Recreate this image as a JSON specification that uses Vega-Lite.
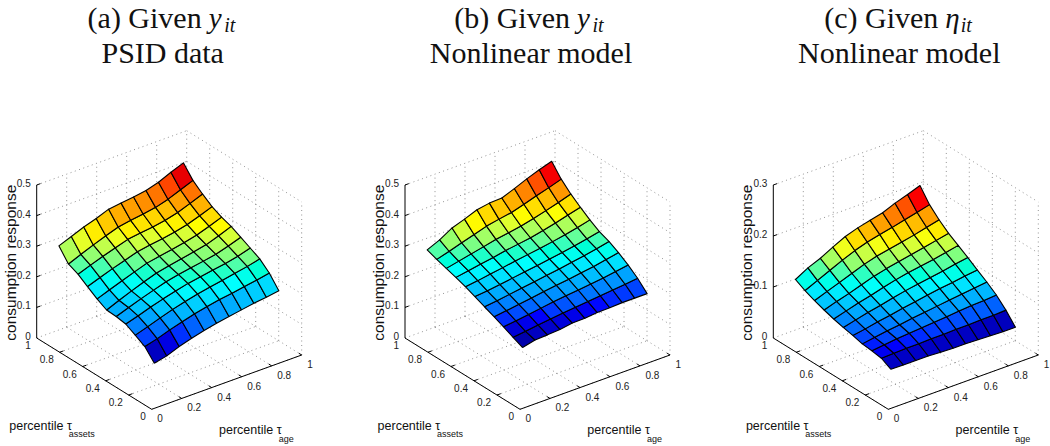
{"$schema":"https://vega.github.io/schema/vega-lite/v6.json","width":1050,"height":446,"padding":0,"autosize":{"type":"fit","contains":"padding"},"background":"white","config":{"view":{"stroke":null}},
"datasets":{"surface":[
{"p":"a","i":0,"j":0,"z":0.12},{"p":"a","i":1,"j":0,"z":0.129},{"p":"a","i":2,"j":0,"z":0.145},{"p":"a","i":3,"j":0,"z":0.157},{"p":"a","i":4,"j":0,"z":0.168},{"p":"a","i":5,"j":0,"z":0.177},{"p":"a","i":6,"j":0,"z":0.184},{"p":"a","i":7,"j":0,"z":0.191},{"p":"a","i":8,"j":0,"z":0.198},{"p":"a","i":9,"j":0,"z":0.203},{"p":"a","i":10,"j":0,"z":0.209},
{"p":"a","i":0,"j":1,"z":0.155},{"p":"a","i":1,"j":1,"z":0.166},{"p":"a","i":2,"j":1,"z":0.18},{"p":"a","i":3,"j":1,"z":0.192},{"p":"a","i":4,"j":1,"z":0.203},{"p":"a","i":5,"j":1,"z":0.212},{"p":"a","i":6,"j":1,"z":0.22},{"p":"a","i":7,"j":1,"z":0.226},{"p":"a","i":8,"j":1,"z":0.233},{"p":"a","i":9,"j":1,"z":0.24},{"p":"a","i":10,"j":1,"z":0.248},
{"p":"a","i":0,"j":2,"z":0.173},{"p":"a","i":1,"j":2,"z":0.186},{"p":"a","i":2,"j":2,"z":0.2},{"p":"a","i":3,"j":2,"z":0.213},{"p":"a","i":4,"j":2,"z":0.224},{"p":"a","i":5,"j":2,"z":0.234},{"p":"a","i":6,"j":2,"z":0.242},{"p":"a","i":7,"j":2,"z":0.249},{"p":"a","i":8,"j":2,"z":0.257},{"p":"a","i":9,"j":2,"z":0.265},{"p":"a","i":10,"j":2,"z":0.275},
{"p":"a","i":0,"j":3,"z":0.19},{"p":"a","i":1,"j":3,"z":0.202},{"p":"a","i":2,"j":3,"z":0.216},{"p":"a","i":3,"j":3,"z":0.228},{"p":"a","i":4,"j":3,"z":0.239},{"p":"a","i":5,"j":3,"z":0.249},{"p":"a","i":6,"j":3,"z":0.256},{"p":"a","i":7,"j":3,"z":0.263},{"p":"a","i":8,"j":3,"z":0.27},{"p":"a","i":9,"j":3,"z":0.279},{"p":"a","i":10,"j":3,"z":0.291},
{"p":"a","i":0,"j":4,"z":0.195},{"p":"a","i":1,"j":4,"z":0.21},{"p":"a","i":2,"j":4,"z":0.224},{"p":"a","i":3,"j":4,"z":0.237},{"p":"a","i":4,"j":4,"z":0.25},{"p":"a","i":5,"j":4,"z":0.259},{"p":"a","i":6,"j":4,"z":0.266},{"p":"a","i":7,"j":4,"z":0.273},{"p":"a","i":8,"j":4,"z":0.281},{"p":"a","i":9,"j":4,"z":0.293},{"p":"a","i":10,"j":4,"z":0.307},
{"p":"a","i":0,"j":5,"z":0.197},{"p":"a","i":1,"j":5,"z":0.214},{"p":"a","i":2,"j":5,"z":0.23},{"p":"a","i":3,"j":5,"z":0.245},{"p":"a","i":4,"j":5,"z":0.259},{"p":"a","i":5,"j":5,"z":0.268},{"p":"a","i":6,"j":5,"z":0.276},{"p":"a","i":7,"j":5,"z":0.284},{"p":"a","i":8,"j":5,"z":0.293},{"p":"a","i":9,"j":5,"z":0.307},{"p":"a","i":10,"j":5,"z":0.323},
{"p":"a","i":0,"j":6,"z":0.214},{"p":"a","i":1,"j":6,"z":0.229},{"p":"a","i":2,"j":6,"z":0.244},{"p":"a","i":3,"j":6,"z":0.258},{"p":"a","i":4,"j":6,"z":0.272},{"p":"a","i":5,"j":6,"z":0.28},{"p":"a","i":6,"j":6,"z":0.287},{"p":"a","i":7,"j":6,"z":0.295},{"p":"a","i":8,"j":6,"z":0.305},{"p":"a","i":9,"j":6,"z":0.319},{"p":"a","i":10,"j":6,"z":0.334},
{"p":"a","i":0,"j":7,"z":0.235},{"p":"a","i":1,"j":7,"z":0.25},{"p":"a","i":2,"j":7,"z":0.264},{"p":"a","i":3,"j":7,"z":0.277},{"p":"a","i":4,"j":7,"z":0.29},{"p":"a","i":5,"j":7,"z":0.297},{"p":"a","i":6,"j":7,"z":0.303},{"p":"a","i":7,"j":7,"z":0.31},{"p":"a","i":8,"j":7,"z":0.32},{"p":"a","i":9,"j":7,"z":0.334},{"p":"a","i":10,"j":7,"z":0.349},
{"p":"a","i":0,"j":8,"z":0.256},{"p":"a","i":1,"j":8,"z":0.271},{"p":"a","i":2,"j":8,"z":0.285},{"p":"a","i":3,"j":8,"z":0.298},{"p":"a","i":4,"j":8,"z":0.311},{"p":"a","i":5,"j":8,"z":0.317},{"p":"a","i":6,"j":8,"z":0.322},{"p":"a","i":7,"j":8,"z":0.329},{"p":"a","i":8,"j":8,"z":0.34},{"p":"a","i":9,"j":8,"z":0.355},{"p":"a","i":10,"j":8,"z":0.371},
{"p":"a","i":0,"j":9,"z":0.27},{"p":"a","i":1,"j":9,"z":0.287},{"p":"a","i":2,"j":9,"z":0.303},{"p":"a","i":3,"j":9,"z":0.318},{"p":"a","i":4,"j":9,"z":0.332},{"p":"a","i":5,"j":9,"z":0.339},{"p":"a","i":6,"j":9,"z":0.345},{"p":"a","i":7,"j":9,"z":0.352},{"p":"a","i":8,"j":9,"z":0.364},{"p":"a","i":9,"j":9,"z":0.38},{"p":"a","i":10,"j":9,"z":0.396},
{"p":"a","i":0,"j":10,"z":0.31},{"p":"a","i":1,"j":10,"z":0.326},{"p":"a","i":2,"j":10,"z":0.342},{"p":"a","i":3,"j":10,"z":0.355},{"p":"a","i":4,"j":10,"z":0.371},{"p":"a","i":5,"j":10,"z":0.376},{"p":"a","i":6,"j":10,"z":0.381},{"p":"a","i":7,"j":10,"z":0.388},{"p":"a","i":8,"j":10,"z":0.4},{"p":"a","i":9,"j":10,"z":0.418},{"p":"a","i":10,"j":10,"z":0.434},
{"p":"b","i":0,"j":0,"z":0.171},{"p":"b","i":1,"j":0,"z":0.181},{"p":"b","i":2,"j":0,"z":0.183},{"p":"b","i":3,"j":0,"z":0.186},{"p":"b","i":4,"j":0,"z":0.192},{"p":"b","i":5,"j":0,"z":0.193},{"p":"b","i":6,"j":0,"z":0.197},{"p":"b","i":7,"j":0,"z":0.198},{"p":"b","i":8,"j":0,"z":0.2},{"p":"b","i":9,"j":0,"z":0.2},{"p":"b","i":10,"j":0,"z":0.2},
{"p":"b","i":0,"j":1,"z":0.185},{"p":"b","i":1,"j":1,"z":0.19},{"p":"b","i":2,"j":1,"z":0.196},{"p":"b","i":3,"j":1,"z":0.201},{"p":"b","i":4,"j":1,"z":0.206},{"p":"b","i":5,"j":1,"z":0.21},{"p":"b","i":6,"j":1,"z":0.214},{"p":"b","i":7,"j":1,"z":0.218},{"p":"b","i":8,"j":1,"z":0.222},{"p":"b","i":9,"j":1,"z":0.226},{"p":"b","i":10,"j":1,"z":0.231},
{"p":"b","i":0,"j":2,"z":0.2},{"p":"b","i":1,"j":2,"z":0.205},{"p":"b","i":2,"j":2,"z":0.211},{"p":"b","i":3,"j":2,"z":0.217},{"p":"b","i":4,"j":2,"z":0.223},{"p":"b","i":5,"j":2,"z":0.228},{"p":"b","i":6,"j":2,"z":0.232},{"p":"b","i":7,"j":2,"z":0.237},{"p":"b","i":8,"j":2,"z":0.242},{"p":"b","i":9,"j":2,"z":0.248},{"p":"b","i":10,"j":2,"z":0.255},
{"p":"b","i":0,"j":3,"z":0.214},{"p":"b","i":1,"j":3,"z":0.219},{"p":"b","i":2,"j":3,"z":0.225},{"p":"b","i":3,"j":3,"z":0.231},{"p":"b","i":4,"j":3,"z":0.237},{"p":"b","i":5,"j":3,"z":0.243},{"p":"b","i":6,"j":3,"z":0.248},{"p":"b","i":7,"j":3,"z":0.254},{"p":"b","i":8,"j":3,"z":0.26},{"p":"b","i":9,"j":3,"z":0.268},{"p":"b","i":10,"j":3,"z":0.276},
{"p":"b","i":0,"j":4,"z":0.227},{"p":"b","i":1,"j":4,"z":0.232},{"p":"b","i":2,"j":4,"z":0.238},{"p":"b","i":3,"j":4,"z":0.244},{"p":"b","i":4,"j":4,"z":0.25},{"p":"b","i":5,"j":4,"z":0.256},{"p":"b","i":6,"j":4,"z":0.262},{"p":"b","i":7,"j":4,"z":0.269},{"p":"b","i":8,"j":4,"z":0.276},{"p":"b","i":9,"j":4,"z":0.284},{"p":"b","i":10,"j":4,"z":0.293},
{"p":"b","i":0,"j":5,"z":0.241},{"p":"b","i":1,"j":5,"z":0.245},{"p":"b","i":2,"j":5,"z":0.251},{"p":"b","i":3,"j":5,"z":0.257},{"p":"b","i":4,"j":5,"z":0.263},{"p":"b","i":5,"j":5,"z":0.269},{"p":"b","i":6,"j":5,"z":0.275},{"p":"b","i":7,"j":5,"z":0.282},{"p":"b","i":8,"j":5,"z":0.289},{"p":"b","i":9,"j":5,"z":0.297},{"p":"b","i":10,"j":5,"z":0.306},
{"p":"b","i":0,"j":6,"z":0.254},{"p":"b","i":1,"j":6,"z":0.259},{"p":"b","i":2,"j":6,"z":0.266},{"p":"b","i":3,"j":6,"z":0.272},{"p":"b","i":4,"j":6,"z":0.279},{"p":"b","i":5,"j":6,"z":0.285},{"p":"b","i":6,"j":6,"z":0.291},{"p":"b","i":7,"j":6,"z":0.298},{"p":"b","i":8,"j":6,"z":0.306},{"p":"b","i":9,"j":6,"z":0.315},{"p":"b","i":10,"j":6,"z":0.325},
{"p":"b","i":0,"j":7,"z":0.265},{"p":"b","i":1,"j":7,"z":0.272},{"p":"b","i":2,"j":7,"z":0.279},{"p":"b","i":3,"j":7,"z":0.286},{"p":"b","i":4,"j":7,"z":0.294},{"p":"b","i":5,"j":7,"z":0.3},{"p":"b","i":6,"j":7,"z":0.306},{"p":"b","i":7,"j":7,"z":0.315},{"p":"b","i":8,"j":7,"z":0.325},{"p":"b","i":9,"j":7,"z":0.336},{"p":"b","i":10,"j":7,"z":0.347},
{"p":"b","i":0,"j":8,"z":0.275},{"p":"b","i":1,"j":8,"z":0.284},{"p":"b","i":2,"j":8,"z":0.293},{"p":"b","i":3,"j":8,"z":0.302},{"p":"b","i":4,"j":8,"z":0.311},{"p":"b","i":5,"j":8,"z":0.318},{"p":"b","i":6,"j":8,"z":0.325},{"p":"b","i":7,"j":8,"z":0.335},{"p":"b","i":8,"j":8,"z":0.346},{"p":"b","i":9,"j":8,"z":0.358},{"p":"b","i":10,"j":8,"z":0.371},
{"p":"b","i":0,"j":9,"z":0.285},{"p":"b","i":1,"j":9,"z":0.297},{"p":"b","i":2,"j":9,"z":0.31},{"p":"b","i":3,"j":9,"z":0.322},{"p":"b","i":4,"j":9,"z":0.335},{"p":"b","i":5,"j":9,"z":0.343},{"p":"b","i":6,"j":9,"z":0.35},{"p":"b","i":7,"j":9,"z":0.362},{"p":"b","i":8,"j":9,"z":0.375},{"p":"b","i":9,"j":9,"z":0.387},{"p":"b","i":10,"j":9,"z":0.4},
{"p":"b","i":0,"j":10,"z":0.297},{"p":"b","i":1,"j":10,"z":0.315},{"p":"b","i":2,"j":10,"z":0.339},{"p":"b","i":3,"j":10,"z":0.353},{"p":"b","i":4,"j":10,"z":0.369},{"p":"b","i":5,"j":10,"z":0.376},{"p":"b","i":6,"j":10,"z":0.378},{"p":"b","i":7,"j":10,"z":0.394},{"p":"b","i":8,"j":10,"z":0.411},{"p":"b","i":9,"j":10,"z":0.426},{"p":"b","i":10,"j":10,"z":0.439},
{"p":"c","i":0,"j":0,"z":0.06},{"p":"c","i":1,"j":0,"z":0.0595},{"p":"c","i":2,"j":0,"z":0.0595},{"p":"c","i":3,"j":0,"z":0.0595},{"p":"c","i":4,"j":0,"z":0.058},{"p":"c","i":5,"j":0,"z":0.057},{"p":"c","i":6,"j":0,"z":0.057},{"p":"c","i":7,"j":0,"z":0.056},{"p":"c","i":8,"j":0,"z":0.055},{"p":"c","i":9,"j":0,"z":0.054},{"p":"c","i":10,"j":0,"z":0.054},
{"p":"c","i":0,"j":1,"z":0.07},{"p":"c","i":1,"j":1,"z":0.071},{"p":"c","i":2,"j":1,"z":0.072},{"p":"c","i":3,"j":1,"z":0.072},{"p":"c","i":4,"j":1,"z":0.073},{"p":"c","i":5,"j":1,"z":0.073},{"p":"c","i":6,"j":1,"z":0.074},{"p":"c","i":7,"j":1,"z":0.074},{"p":"c","i":8,"j":1,"z":0.075},{"p":"c","i":9,"j":1,"z":0.075},{"p":"c","i":10,"j":1,"z":0.076},
{"p":"c","i":0,"j":2,"z":0.073},{"p":"c","i":1,"j":2,"z":0.076},{"p":"c","i":2,"j":2,"z":0.079},{"p":"c","i":3,"j":2,"z":0.081},{"p":"c","i":4,"j":2,"z":0.083},{"p":"c","i":5,"j":2,"z":0.085},{"p":"c","i":6,"j":2,"z":0.087},{"p":"c","i":7,"j":2,"z":0.089},{"p":"c","i":8,"j":2,"z":0.091},{"p":"c","i":9,"j":2,"z":0.092},{"p":"c","i":10,"j":2,"z":0.094},
{"p":"c","i":0,"j":3,"z":0.075},{"p":"c","i":1,"j":3,"z":0.079},{"p":"c","i":2,"j":3,"z":0.083},{"p":"c","i":3,"j":3,"z":0.086},{"p":"c","i":4,"j":3,"z":0.09},{"p":"c","i":5,"j":3,"z":0.093},{"p":"c","i":6,"j":3,"z":0.096},{"p":"c","i":7,"j":3,"z":0.099},{"p":"c","i":8,"j":3,"z":0.102},{"p":"c","i":9,"j":3,"z":0.105},{"p":"c","i":10,"j":3,"z":0.108},
{"p":"c","i":0,"j":4,"z":0.08},{"p":"c","i":1,"j":4,"z":0.084},{"p":"c","i":2,"j":4,"z":0.089},{"p":"c","i":3,"j":4,"z":0.093},{"p":"c","i":4,"j":4,"z":0.098},{"p":"c","i":5,"j":4,"z":0.102},{"p":"c","i":6,"j":4,"z":0.106},{"p":"c","i":7,"j":4,"z":0.11},{"p":"c","i":8,"j":4,"z":0.113},{"p":"c","i":9,"j":4,"z":0.117},{"p":"c","i":10,"j":4,"z":0.12},
{"p":"c","i":0,"j":5,"z":0.084},{"p":"c","i":1,"j":5,"z":0.09},{"p":"c","i":2,"j":5,"z":0.096},{"p":"c","i":3,"j":5,"z":0.101},{"p":"c","i":4,"j":5,"z":0.107},{"p":"c","i":5,"j":5,"z":0.112},{"p":"c","i":6,"j":5,"z":0.116},{"p":"c","i":7,"j":5,"z":0.12},{"p":"c","i":8,"j":5,"z":0.124},{"p":"c","i":9,"j":5,"z":0.129},{"p":"c","i":10,"j":5,"z":0.133},
{"p":"c","i":0,"j":6,"z":0.089},{"p":"c","i":1,"j":6,"z":0.096},{"p":"c","i":2,"j":6,"z":0.103},{"p":"c","i":3,"j":6,"z":0.109},{"p":"c","i":4,"j":6,"z":0.116},{"p":"c","i":5,"j":6,"z":0.122},{"p":"c","i":6,"j":6,"z":0.127},{"p":"c","i":7,"j":6,"z":0.131},{"p":"c","i":8,"j":6,"z":0.135},{"p":"c","i":9,"j":6,"z":0.14},{"p":"c","i":10,"j":6,"z":0.145},
{"p":"c","i":0,"j":7,"z":0.095},{"p":"c","i":1,"j":7,"z":0.103},{"p":"c","i":2,"j":7,"z":0.11},{"p":"c","i":3,"j":7,"z":0.118},{"p":"c","i":4,"j":7,"z":0.126},{"p":"c","i":5,"j":7,"z":0.132},{"p":"c","i":6,"j":7,"z":0.137},{"p":"c","i":7,"j":7,"z":0.142},{"p":"c","i":8,"j":7,"z":0.147},{"p":"c","i":9,"j":7,"z":0.152},{"p":"c","i":10,"j":7,"z":0.157},
{"p":"c","i":0,"j":8,"z":0.102},{"p":"c","i":1,"j":8,"z":0.111},{"p":"c","i":2,"j":8,"z":0.12},{"p":"c","i":3,"j":8,"z":0.129},{"p":"c","i":4,"j":8,"z":0.138},{"p":"c","i":5,"j":8,"z":0.145},{"p":"c","i":6,"j":8,"z":0.15},{"p":"c","i":7,"j":8,"z":0.155},{"p":"c","i":8,"j":8,"z":0.16},{"p":"c","i":9,"j":8,"z":0.166},{"p":"c","i":10,"j":8,"z":0.172},
{"p":"c","i":0,"j":9,"z":0.11},{"p":"c","i":1,"j":9,"z":0.121},{"p":"c","i":2,"j":9,"z":0.132},{"p":"c","i":3,"j":9,"z":0.143},{"p":"c","i":4,"j":9,"z":0.153},{"p":"c","i":5,"j":9,"z":0.161},{"p":"c","i":6,"j":9,"z":0.167},{"p":"c","i":7,"j":9,"z":0.172},{"p":"c","i":8,"j":9,"z":0.178},{"p":"c","i":9,"j":9,"z":0.184},{"p":"c","i":10,"j":9,"z":0.19},
{"p":"c","i":0,"j":10,"z":0.12},{"p":"c","i":1,"j":10,"z":0.134},{"p":"c","i":2,"j":10,"z":0.144},{"p":"c","i":3,"j":10,"z":0.157},{"p":"c","i":4,"j":10,"z":0.169},{"p":"c","i":5,"j":10,"z":0.177},{"p":"c","i":6,"j":10,"z":0.183},{"p":"c","i":7,"j":10,"z":0.189},{"p":"c","i":8,"j":10,"z":0.199},{"p":"c","i":9,"j":10,"z":0.207},{"p":"c","i":10,"j":10,"z":0.216}
],
"grid":[
{"l":1,"p":["a","b","c"],"age":[0,0],"assets":[0,1],"h":[0,0]},{"l":2,"p":["a","b","c"],"age":[0.2,0.2],"assets":[0,1],"h":[0,0]},{"l":3,"p":["a","b","c"],"age":[0.4,0.4],"assets":[0,1],"h":[0,0]},{"l":4,"p":["a","b","c"],"age":[0.6,0.6],"assets":[0,1],"h":[0,0]},{"l":5,"p":["a","b","c"],"age":[0.8,0.8],"assets":[0,1],"h":[0,0]},{"l":6,"p":["a","b","c"],"age":[1,1],"assets":[0,1],"h":[0,0]},
{"l":7,"p":["a","b","c"],"age":[0,1],"assets":[0,0],"h":[0,0]},{"l":8,"p":["a","b","c"],"age":[0,1],"assets":[0.2,0.2],"h":[0,0]},{"l":9,"p":["a","b","c"],"age":[0,1],"assets":[0.4,0.4],"h":[0,0]},{"l":10,"p":["a","b","c"],"age":[0,1],"assets":[0.6,0.6],"h":[0,0]},{"l":11,"p":["a","b","c"],"age":[0,1],"assets":[0.8,0.8],"h":[0,0]},{"l":12,"p":["a","b","c"],"age":[0,1],"assets":[1,1],"h":[0,0]},
{"l":13,"p":["a","b","c"],"age":[0.2,0.2],"assets":[1,1],"h":[0,1]},{"l":14,"p":["a","b","c"],"age":[0.4,0.4],"assets":[1,1],"h":[0,1]},{"l":15,"p":["a","b","c"],"age":[0.6,0.6],"assets":[1,1],"h":[0,1]},{"l":16,"p":["a","b","c"],"age":[0.8,0.8],"assets":[1,1],"h":[0,1]},{"l":17,"p":["a","b","c"],"age":[1,1],"assets":[1,1],"h":[0,1]},
{"l":18,"p":["a","b","c"],"age":[1,1],"assets":[0,0],"h":[0,1]},{"l":19,"p":["a","b","c"],"age":[1,1],"assets":[0.2,0.2],"h":[0,1]},{"l":20,"p":["a","b","c"],"age":[1,1],"assets":[0.4,0.4],"h":[0,1]},{"l":21,"p":["a","b","c"],"age":[1,1],"assets":[0.6,0.6],"h":[0,1]},{"l":22,"p":["a","b","c"],"age":[1,1],"assets":[0.8,0.8],"h":[0,1]},
{"l":23,"p":["a","b"],"age":[0,1],"assets":[1,1],"h":[0.2,0.2]},{"l":24,"p":["a","b"],"age":[0,1],"assets":[1,1],"h":[0.4,0.4]},{"l":25,"p":["a","b"],"age":[0,1],"assets":[1,1],"h":[0.6,0.6]},{"l":26,"p":["a","b"],"age":[0,1],"assets":[1,1],"h":[0.8,0.8]},{"l":27,"p":["a","b","c"],"age":[0,1],"assets":[1,1],"h":[1,1]},
{"l":28,"p":["a","b"],"age":[1,1],"assets":[0,1],"h":[0.2,0.2]},{"l":29,"p":["a","b"],"age":[1,1],"assets":[0,1],"h":[0.4,0.4]},{"l":30,"p":["a","b"],"age":[1,1],"assets":[0,1],"h":[0.6,0.6]},{"l":31,"p":["a","b"],"age":[1,1],"assets":[0,1],"h":[0.8,0.8]},{"l":32,"p":["a","b","c"],"age":[1,1],"assets":[0,1],"h":[1,1]},
{"l":33,"p":["c"],"age":[0,1],"assets":[1,1],"h":[0.3333,0.3333]},{"l":34,"p":["c"],"age":[0,1],"assets":[1,1],"h":[0.6667,0.6667]},{"l":35,"p":["c"],"age":[1,1],"assets":[0,1],"h":[0.3333,0.3333]},{"l":36,"p":["c"],"age":[1,1],"assets":[0,1],"h":[0.6667,0.6667]}
],
"axes":[
{"l":1,"p":["a","b","c"],"age":[0,0],"assets":[1,0],"h":[0,0]},{"l":2,"p":["a","b","c"],"age":[0,1],"assets":[0,0],"h":[0,0]},{"l":3,"p":["a","b","c"],"age":[0,0],"assets":[1,1],"h":[0,1]},
{"l":4,"p":["a","b","c"],"age":[0.2,0.2],"assets":[0,0.025],"h":[0,0]},{"l":5,"p":["a","b","c"],"age":[0.4,0.4],"assets":[0,0.025],"h":[0,0]},{"l":6,"p":["a","b","c"],"age":[0.6,0.6],"assets":[0,0.025],"h":[0,0]},{"l":7,"p":["a","b","c"],"age":[0.8,0.8],"assets":[0,0.025],"h":[0,0]},{"l":8,"p":["a","b","c"],"age":[1,1],"assets":[0,0.025],"h":[0,0]},
{"l":9,"p":["a","b","c"],"age":[0,0.025],"assets":[0.2,0.2],"h":[0,0]},{"l":10,"p":["a","b","c"],"age":[0,0.025],"assets":[0.4,0.4],"h":[0,0]},{"l":11,"p":["a","b","c"],"age":[0,0.025],"assets":[0.6,0.6],"h":[0,0]},{"l":12,"p":["a","b","c"],"age":[0,0.025],"assets":[0.8,0.8],"h":[0,0]},
{"l":13,"p":["a","b"],"age":[0,0.025],"assets":[1,1],"h":[0.2,0.2]},{"l":14,"p":["a","b"],"age":[0,0.025],"assets":[1,1],"h":[0.4,0.4]},{"l":15,"p":["a","b"],"age":[0,0.025],"assets":[1,1],"h":[0.6,0.6]},{"l":16,"p":["a","b"],"age":[0,0.025],"assets":[1,1],"h":[0.8,0.8]},{"l":17,"p":["a","b","c"],"age":[0,0.025],"assets":[1,1],"h":[1,1]},
{"l":18,"p":["c"],"age":[0,0.025],"assets":[1,1],"h":[0.3333,0.3333]},{"l":19,"p":["c"],"age":[0,0.025],"assets":[1,1],"h":[0.6667,0.6667]}
],
"labels":[
{"p":["a","b","c"],"r":"age","t":"0","age":0},{"p":["a","b","c"],"r":"age","t":"0.2","age":0.2},{"p":["a","b","c"],"r":"age","t":"0.4","age":0.4},{"p":["a","b","c"],"r":"age","t":"0.6","age":0.6},{"p":["a","b","c"],"r":"age","t":"0.8","age":0.8},{"p":["a","b","c"],"r":"age","t":"1","age":1},
{"p":["a","b","c"],"r":"assets","t":"0","assets":0},{"p":["a","b","c"],"r":"assets","t":"0.2","assets":0.2},{"p":["a","b","c"],"r":"assets","t":"0.4","assets":0.4},{"p":["a","b","c"],"r":"assets","t":"0.6","assets":0.6},{"p":["a","b","c"],"r":"assets","t":"0.8","assets":0.8},{"p":["a","b","c"],"r":"assets","t":"1","assets":1},
{"p":["a","b","c"],"r":"z","t":"0","assets":1,"h":0},{"p":["a","b"],"r":"z","t":"0.1","assets":1,"h":0.2},{"p":["a","b"],"r":"z","t":"0.2","assets":1,"h":0.4},{"p":["a","b"],"r":"z","t":"0.3","assets":1,"h":0.6},{"p":["a","b"],"r":"z","t":"0.4","assets":1,"h":0.8},{"p":["a","b"],"r":"z","t":"0.5","assets":1,"h":1},{"p":["c"],"r":"z","t":"0.1","assets":1,"h":0.3333},{"p":["c"],"r":"z","t":"0.2","assets":1,"h":0.6667},{"p":["c"],"r":"z","t":"0.3","assets":1,"h":1},
{"p":["a"],"r":"t1","t":"(a) Given"},{"p":["b"],"r":"t1","t":"(b) Given"},{"p":["c"],"r":"t1","t":"(c) Given"},
{"p":["a","b"],"r":"sym","t":"y"},{"p":["c"],"r":"sym","t":"η"},{"p":["a","b","c"],"r":"sub","t":"it"},
{"p":["a"],"r":"t2","t":"PSID data"},{"p":["b","c"],"r":"t2","t":"Nonlinear model"},
{"p":["a","b","c"],"r":"xa","t":"percentile τ"},{"p":["a","b","c"],"r":"xas","t":"assets"},{"p":["a","b","c"],"r":"xb","t":"percentile τ"},{"p":["a","b","c"],"r":"xbs","t":"age"},{"p":["a","b","c"],"r":"yt","t":"consumption response"}
]},
"data":{"name":"labels"},
"transform":[{"flatten":["p"]},{"calculate":"{a:151.7,b:520,c:888.3}[datum.p]+150*(datum.age||0)-115*(datum.assets||0)","as":"x"},{"calculate":"409.3-54.3*(datum.age||0)-71.3*(datum.assets||0)-153*(datum.h||0)","as":"y"}],
"encoding":{"x":{"field":"x","type":"quantitative","axis":null,"scale":{"domain":[0,1050],"nice":false,"zero":false}},"y":{"field":"y","type":"quantitative","axis":null,"scale":{"domain":[446,0],"nice":false,"zero":false}}},
"layer":[
{"data":{"name":"grid"},"transform":[{"flatten":["p"]},{"flatten":["age","assets","h"]},{"calculate":"{a:151.7,b:520,c:888.3}[datum.p]+150*datum.age-115*datum.assets","as":"x"},{"calculate":"409.3-54.3*datum.age-71.3*datum.assets-153*datum.h","as":"y"}],"mark":{"type":"line","stroke":"#777777","strokeWidth":0.8,"strokeDash":[1,3.5]},"encoding":{"detail":[{"field":"l"},{"field":"p"}]}},
{"data":{"name":"surface"},"transform":[
{"joinaggregate":[{"op":"min","field":"z","as":"lo"},{"op":"max","field":"z","as":"hi"}],"groupby":["p"]},
{"calculate":"[0,1,2,3,4]","as":"c"},{"flatten":["c"]},
{"calculate":"datum.i-((datum.c==1||datum.c==2)?1:0)","as":"ci"},
{"calculate":"datum.j-((datum.c==2||datum.c==3)?1:0)","as":"cj"},
{"filter":"datum.ci>=0&&datum.ci<10&&datum.cj>=0&&datum.cj<10"},
{"calculate":"datum.p+'-'+datum.ci+'-'+datum.cj","as":"cell"},
{"joinaggregate":[{"op":"mean","field":"z","as":"cz"}],"groupby":["cell"]},
{"calculate":"(datum.cz-datum.lo)/(datum.hi-datum.lo)","as":"level"},
{"calculate":"0.075+0.083*datum.i","as":"age"},{"calculate":"0.075+0.083*datum.j","as":"assets"},
{"calculate":"{a:151.7,b:520,c:888.3}[datum.p]+150*datum.age-115*datum.assets","as":"x"},
{"calculate":"409.3-54.3*datum.age-71.3*datum.assets-153*datum.z/(datum.p=='c'?0.3:0.5)","as":"y"}],
"mark":{"type":"line","stroke":"black","strokeWidth":1.1,"strokeJoin":"round"},
"encoding":{"detail":{"field":"cell"},"order":{"field":"c"},"fill":{"field":"level","type":"quantitative","legend":null,"scale":{"domain":[0,0.125,0.375,0.5,0.625,0.875,1],"range":["#00008f","#0000ff","#00ffff","#80ff80","#ffff00","#ff0000","#800000"]}}}},
{"data":{"name":"axes"},"transform":[{"flatten":["p"]},{"flatten":["age","assets","h"]},{"calculate":"{a:151.7,b:520,c:888.3}[datum.p]+150*datum.age-115*datum.assets","as":"x"},{"calculate":"409.3-54.3*datum.age-71.3*datum.assets-153*datum.h","as":"y"}],"mark":{"type":"line","stroke":"black","strokeWidth":1},"encoding":{"detail":[{"field":"l"},{"field":"p"}]}},
{"transform":[{"filter":"datum.r=='age'"}],"mark":{"type":"text","font":"Liberation Sans","fontSize":10,"align":"left","baseline":"middle","dx":5.5,"dy":10,"fill":"#222222"},"encoding":{"text":{"field":"t"}}},
{"transform":[{"filter":"datum.r=='assets'"}],"mark":{"type":"text","font":"Liberation Sans","fontSize":10,"align":"right","baseline":"middle","dx":-6,"dy":8,"fill":"#222222"},"encoding":{"text":{"field":"t"}}},
{"transform":[{"filter":"datum.r=='z'"}],"mark":{"type":"text","font":"Liberation Sans","fontSize":10,"align":"right","baseline":"middle","dx":-6,"dy":-1,"fill":"#222222"},"encoding":{"text":{"field":"t"}}},
{"transform":[{"filter":"datum.r=='t1'"}],"mark":{"type":"text","font":"Liberation Serif","fontSize":30,"align":"right","baseline":"middle","dx":50,"dy":-390,"fill":"#111111"},"encoding":{"text":{"field":"t"}}},
{"transform":[{"filter":"datum.r=='sym'"}],"mark":{"type":"text","font":"Liberation Serif","fontStyle":"italic","fontSize":29,"align":"left","baseline":"middle","dx":57,"dy":-390,"fill":"#111111"},"encoding":{"text":{"field":"t"}}},
{"transform":[{"filter":"datum.r=='sub'"}],"mark":{"type":"text","font":"Liberation Serif","fontStyle":"italic","fontSize":20,"align":"left","baseline":"middle","dx":72.5,"dy":-383,"fill":"#111111"},"encoding":{"text":{"field":"t"}}},
{"transform":[{"filter":"datum.r=='t2'"}],"mark":{"type":"text","font":"Liberation Serif","fontSize":30,"align":"center","baseline":"middle","dx":11,"dy":-355,"fill":"#111111"},"encoding":{"text":{"field":"t"}}},
{"transform":[{"filter":"datum.r=='xa'"}],"mark":{"type":"text","font":"Liberation Sans","fontSize":12.5,"align":"left","baseline":"middle","dx":-142.4,"dy":16.7,"fill":"#111111"},"encoding":{"text":{"field":"t"}}},
{"transform":[{"filter":"datum.r=='xas'"}],"mark":{"type":"text","font":"Liberation Sans","fontSize":9,"align":"left","baseline":"middle","dx":-83,"dy":24.7,"fill":"#111111"},"encoding":{"text":{"field":"t"}}},
{"transform":[{"filter":"datum.r=='xb'"}],"mark":{"type":"text","font":"Liberation Sans","fontSize":12.5,"align":"left","baseline":"middle","dx":67.3,"dy":20.7,"fill":"#111111"},"encoding":{"text":{"field":"t"}}},
{"transform":[{"filter":"datum.r=='xbs'"}],"mark":{"type":"text","font":"Liberation Sans","fontSize":9,"align":"left","baseline":"middle","dx":127,"dy":29.2,"fill":"#111111"},"encoding":{"text":{"field":"t"}}},
{"transform":[{"filter":"datum.r=='yt'"}],"mark":{"type":"text","font":"Liberation Sans","fontSize":15.5,"angle":270,"align":"center","baseline":"middle","dx":146.6,"dy":-141,"fill":"#111111"},"encoding":{"text":{"field":"t"}}}
]}
